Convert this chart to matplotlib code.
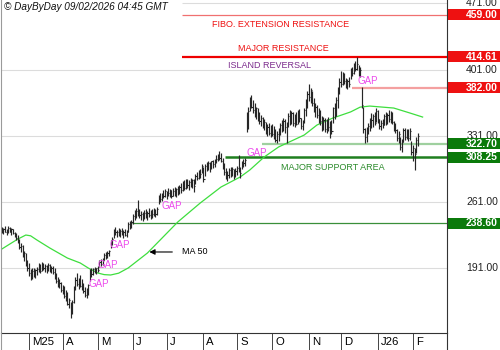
import matplotlib
matplotlib.use("Agg")
import matplotlib.pyplot as plt
import matplotlib.transforms as mtrans
from matplotlib.patches import Rectangle
from matplotlib.lines import Line2D
import numpy as np
import pandas as pd

plt.rcParams["font.family"] = ["Liberation Sans", "DejaVu Sans"]

# daily bars, 6 Feb 2025 -> early Feb 2026
lows = [228,227,229,226,228,229,226,227,224,221,
        218,212,208,203,199,194,188,183,179,180,
        182,181,184,187,186,188,189,187,186,188,
        187,186,185,180,176,171,170,166,164,160,
        157,152,149,139,143,155,168,172,169,171,
        168,165,161,160,163,178,182,184,186,185,
        187,193,194,195,200,201,202,204,213,216,
        223,226,224,225,224,226,223,225,224,230,
        233,234,238,242,244,246,244,242,241,243,
        244,242,245,243,244,246,245,247,259,261,
        262,265,266,264,267,266,265,267,268,266,
        269,270,271,273,274,275,276,274,277,276,
        272,280,284,285,287,292,282,289,294,295,
        293,296,297,298,302,304,306,303,296,290,
        286,283,287,288,289,286,288,290,293,287,
        296,298,299,335,338,357,360,355,351,349,
        347,344,341,339,337,333,331,332,330,331,
        328,325,324,326,332,335,336,334,324,340,
        343,344,341,340,342,344,346,338,337,345,
        352,360,368,366,363,356,351,350,345,343,
        336,337,335,334,336,329,333,345,349,352,
        360,375,383,385,386,382,381,383,391,394,
        396,399,401,394,393,360,334,323,325,333,
        336,339,340,342,346,345,338,337,339,342,
        343,344,346,345,344,336,334,326,324,316,
        314,325,327,328,326,327,311,305,295,313,
        320]
highs = [235,234,236,233,236,235,234,233,230,228,
         226,222,218,216,209,207,200,197,190,191,
         192,190,193,197,196,198,197,196,195,197,
         196,194,194,191,186,182,180,177,174,172,
         168,166,160,156,158,172,182,186,181,184,
         180,176,171,170,175,190,191,192,193,192,
         194,200,201,202,207,208,209,210,221,224,
         233,235,232,234,233,234,232,233,232,240,
         241,242,248,253,255,263,254,252,251,253,
         254,252,255,253,254,255,254,256,269,271,
         271,274,275,273,276,275,274,276,277,276,
         278,279,281,283,284,285,286,284,287,286,
         285,291,293,295,296,301,298,301,303,304,
         303,305,306,307,311,312,315,313,308,302,
         297,294,297,298,298,296,297,299,311,298,
         305,307,308,356,361,372,374,369,366,362,
         360,356,353,351,349,346,344,345,343,344,
         341,338,336,339,345,348,350,349,346,355,
         358,357,356,354,356,358,359,350,348,360,
         370,378,386,382,378,371,366,364,360,358,
         352,351,350,349,351,347,348,362,366,372,
         383,392,400,398,397,392,391,393,403,404,
         408,410,414,406,404,383,362,339,340,345,
         350,355,354,356,360,358,349,348,349,354,
         356,355,358,357,356,347,345,338,336,330,
         328,339,339,338,338,339,326,321,318,330,
         334]
closes = [231,233,230,232,234,230,233,228,226,223,
          220,214,215,205,207,196,192,186,185,188,
          184,189,190,195,188,196,192,194,189,195,
          190,192,187,182,178,174,176,168,171,162,
          165,154,158,145,156,170,179,175,178,173,
          170,167,163,168,174,187,185,190,188,191,
          189,198,196,200,205,203,207,209,219,222,
          231,229,230,227,231,228,230,226,230,238,
          235,240,246,250,252,250,247,249,244,250,
          246,250,247,251,248,253,249,254,267,264,
          269,268,273,270,271,274,267,273,270,275,
          272,277,274,280,276,283,279,282,281,284,
          278,289,287,293,291,299,286,299,297,302,
          299,304,301,305,307,310,308,305,299,293,
          288,290,295,291,296,289,294,297,296,292,
          303,302,306,340,357,368,362,358,353,360,
          350,347,350,342,346,336,340,334,338,333,
          336,327,333,337,342,338,347,340,343,352,
          346,355,345,350,344,356,350,341,346,358,
          367,375,372,379,366,359,362,353,356,347,
          340,348,338,345,340,344,336,360,352,369,
          378,388,386,394,389,384,389,386,400,397,
          405,402,407,397,401,364,338,330,336,341,
          346,348,352,345,357,349,341,345,342,352,
          347,353,349,355,346,338,337,329,333,319,
          325,337,330,335,329,336,314,318,312,327,
          331]

# 50-day moving average, read at selected bars
ma_idx = [0, 5, 10, 15, 18, 22, 30, 41, 49, 54, 60, 64, 68, 73, 79, 91, 99,
          110, 124, 137, 149, 155, 164, 173, 189, 197, 207, 218, 224, 230,
          245, 255, 263]
ma_vals = [211.5, 216.8, 222.0, 226.3, 225.5, 221.0, 212.6, 202.0, 196.8,
           191.5, 186.2, 184.5, 184.1, 186.0, 191.5, 207.3, 221.1, 240.1,
           260.1, 277.0, 287.6, 295.0, 308.7, 319.3, 331.9, 342.5, 349.9,
           356.3, 361.4, 362.5, 360.4, 355.2, 350.9]

grid_levels = [471, 401, 331, 261, 191]
levels = [459.00, 414.61, 382.00, 322.70, 308.25, 238.60]
level_kind = ["res", "res", "res", "sup", "sup", "sup"]
month_labels = ["M25", "A", "M", "J", "J", "A", "S", "O", "N", "D", "J26", "F"]

RED = "#ee1111"; GREEN = "#0b7a0b"; GAPC = "#ec4cec"

dates = pd.bdate_range("2025-02-06", periods=len(lows))
idx = np.arange(len(lows))
month_pos = [i for i in range(1, len(dates)) if dates[i].month != dates[i - 1].month]

fig = plt.figure(figsize=(5, 3.5), dpi=100)
ax = fig.add_axes([1/500, 17/350, 446/500, 333/350])
ax.set_xlim(-0.5, 278.25)
ax.set_ylim(122.85, 474.5)

# horizontal grid
for lv in grid_levels:
    x0 = 112.6 if lv == 471 else -0.5
    ax.hlines(lv, x0, 278.25, color="#dcdcdc", lw=0.8, zorder=0)

# level lines
ax.hlines(459.00, 112.6, 278.25, color="#f07070", lw=0.9, zorder=1)
ax.hlines(414.61, 112.6, 278.25, color="#ee0000", lw=1.6, zorder=1)
ax.hlines(382.00, 218.9, 278.25, color="#f4a0a0", lw=1.6, zorder=1)
ax.hlines(322.70, 162.6, 278.25, color="#9fd09f", lw=1.6, zorder=1)
ax.hlines(308.25, 139.5, 278.25, color="#1f7f1f", lw=1.8, zorder=1)
ax.hlines(238.60, 81.4, 278.25, color="#3a8f3a", lw=0.9, zorder=1)

# OHLC bars (high-low with close tick)
ax.vlines(idx, lows, highs, color="#262626", lw=0.85, zorder=3)
ax.hlines(closes, idx, idx + 0.8, color="#262626", lw=0.8, zorder=3)

ax.plot(ma_idx, ma_vals, color="#3ede3e", lw=0.9, zorder=2)

# annotations
ax.text(131.4, 449.1, "FIBO. EXTENSION RESISTANCE", color=RED, fontsize=6.5, va="center")
ax.text(147.6, 423.8, "MAJOR RESISTANCE", color=RED, fontsize=6.5, va="center")
ax.text(141.4, 405.8, "ISLAND REVERSAL", color="#7b2a8c", fontsize=6.5, va="center")
ax.text(174.5, 297.1, "MAJOR SUPPORT AREA", color="#2a8a2a", fontsize=6.5, va="center")
for gx, gy in [(53.9, 174.6), (59.5, 194.6), (67.6, 215.8), (100.1, 257.0),
               (153.2, 312.9), (222.0, 388.9)]:
    ax.text(gx, gy, "GAP", color=GAPC, fontsize=7, va="center", zorder=4)
ax.annotate("", xy=(90.5, 208.4), xytext=(108.3, 208.4),
            arrowprops=dict(arrowstyle="-|>", color="black", lw=0.8, mutation_scale=8))
ax.text(112.6, 208.4, "MA 50", fontsize=6.5, va="center")

# month axis strip
ax.set_yticks([])
ax.set_xticks(month_pos)
ax.set_xticklabels([])
ax.tick_params(axis="x", direction="out", length=12.3, width=0.7, color="#444444")
xb = mtrans.blended_transform_factory(ax.transData, ax.transAxes)
for p, lab in zip(month_pos, month_labels):
    ax.text(p + 1.9, -0.027, lab, transform=xb, fontsize=8.2, ha="left", va="center")

ax.spines["top"].set_visible(False)
ax.spines["left"].set_color("#9a9a9a")
ax.spines["right"].set_color("#333333")
ax.spines["bottom"].set_color("#333333")
for s in ["left", "right", "bottom"]:
    ax.spines[s].set_linewidth(0.8)
fig.add_artist(Line2D([447/500, 447/500], [0, 17/350], color="#333333", lw=0.8))
fig.add_artist(Line2D([1/500, 1/500], [0, 17/350], color="#9a9a9a", lw=0.8))

# price scale on the right
yb = mtrans.blended_transform_factory(fig.transFigure, ax.transData)
for lv in grid_levels:
    fig.text(0.996, lv, f"{lv:.2f}", transform=yb, fontsize=7.5, ha="right",
             va="center", color="#222222", zorder=3)
for lv, kind in zip(levels, level_kind):
    col = RED if kind == "res" else GREEN
    fig.add_artist(Rectangle((448/500, lv - 5.7), 52/500, 11.4, transform=yb,
                             facecolor=col, edgecolor="none", zorder=4))
    fig.text(0.996, lv, f"{lv:.2f}", transform=yb, fontsize=7.5, ha="right",
             va="center", color="white", fontweight="bold", zorder=5)

fig.text(4/500, 1 - 7.5/350, "\u00a9 DayByDay 09/02/2026 04:45 GMT", fontsize=7.2,
         style="italic", va="center", color="#111111")

fig.savefig("out.png", dpi=100, facecolor="white")
